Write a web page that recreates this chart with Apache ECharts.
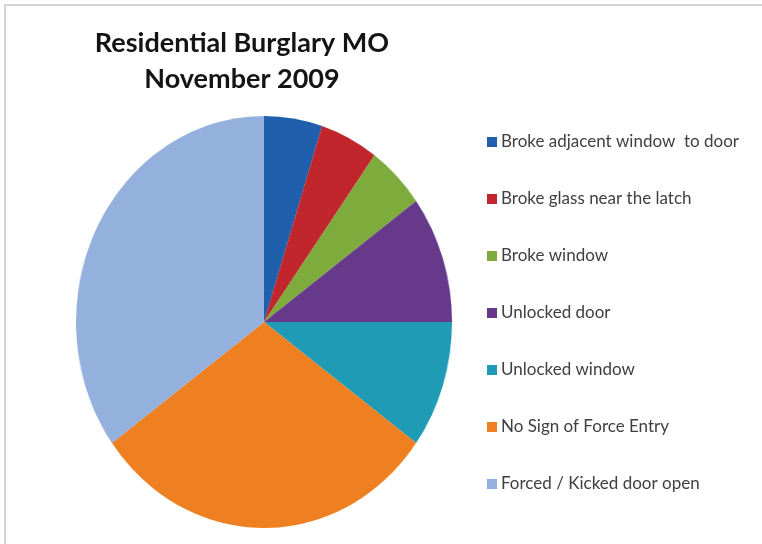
<!DOCTYPE html>
<html>
<head>
<meta charset="utf-8">
<script src="https://cdn.jsdelivr.net/npm/echarts@6/dist/echarts.min.js"></script>
<style>
  html, body { margin: 0; padding: 0; background: #ffffff; }
  #wrap { position: relative; width: 762px; height: 544px; overflow: hidden; background: #fff; }
  #frame { position: absolute; left: 4px; top: 4px; width: 800px; height: 600px; border-left: 2px solid #d4d4d4; border-top: 2px solid #d4d4d4; }
  #pie { position: absolute; left: 58px; top: 116px; width: 412px; height: 412px; transform: scaleX(0.9126); transform-origin: 50% 50%; }
  #main { position: absolute; left: 0; top: 0; width: 762px; height: 544px; }
</style>
</head>
<body>
<div id="wrap">
  <div id="frame"></div>
  <div id="pie"></div>
  <div id="main"></div>
</div>
<script>
const titleLines = ['Residential Burglary MO', 'November 2009'];
const categories = [
  'Broke adjacent window  to door',
  'Broke glass near the latch',
  'Broke window',
  'Unlocked door',
  'Unlocked window',
  'No Sign of Force Entry',
  'Forced / Kicked door open'
];
const values = [1, 1, 1, 2, 2, 6, 7];
const colors = ['#1f5fab', '#c0262c', '#7dab3c', '#67398b', '#1f9bb6', '#ee8022', '#94b0dc'];

const pieData = categories.map((c, i) => ({ name: c, value: values[i] }));

const pieChart = echarts.init(document.getElementById('pie'), null, { renderer: 'canvas' });
pieChart.setOption({
  animation: false,
  color: colors,
  series: [{
    type: 'pie',
    radius: '100%',
    center: ['50%', '50%'],
    startAngle: 90,
    clockwise: true,
    label: { show: false },
    labelLine: { show: false },
    itemStyle: { borderWidth: 0 },
    emphasis: { disabled: true },
    data: pieData
  }]
});

const main = echarts.init(document.getElementById('main'), null, { renderer: 'canvas' });
main.setOption({
  animation: false,
  backgroundColor: 'transparent',
  color: colors,
  title: {
    text: titleLines.join('\n'),
    left: 237,
    top: 20,
    textAlign: 'center',
    textStyle: {
      fontFamily: 'Lato',
      fontSize: 27,
      fontWeight: 'bold',
      color: '#141414',
      lineHeight: 36
    }
  },
  legend: {
    orient: 'vertical',
    left: 482,
    top: 127,
    icon: 'rect',
    itemWidth: 10,
    itemHeight: 10,
    itemGap: 37,
    selectedMode: false,
    textStyle: {
      fontFamily: 'Lato',
      fontSize: 17,
      color: '#404040',
      lineHeight: 20,
      padding: [0, 0, 0, -1]
    },
    data: categories
  },
  series: [{
    type: 'pie',
    radius: ['0%', '1%'],
    center: [-100, -100],
    silent: true,
    label: { show: false },
    labelLine: { show: false },
    data: pieData
  }]
});
</script>
</body>
</html>
